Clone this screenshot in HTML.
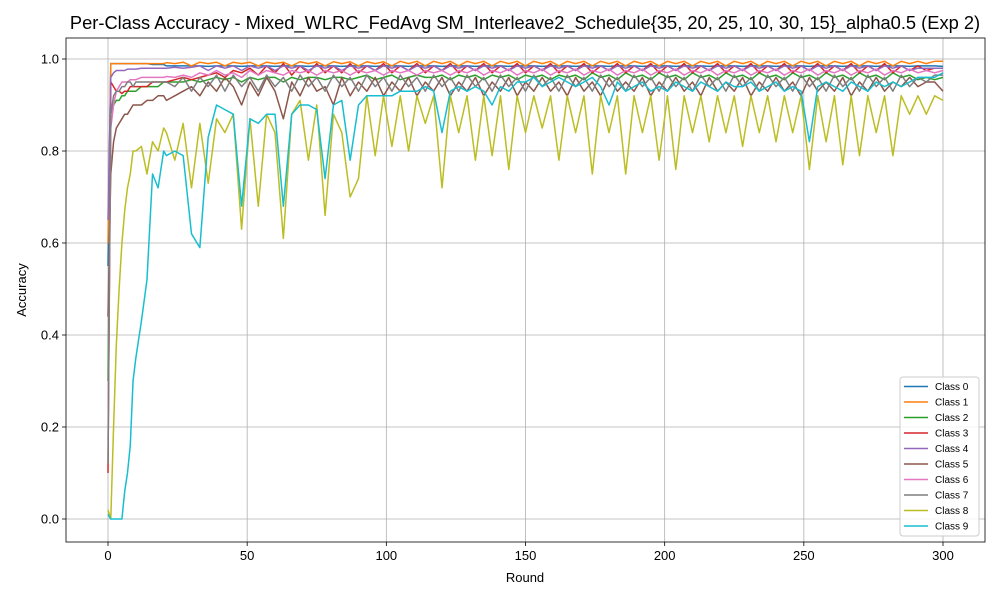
<!DOCTYPE html>
<html><head><meta charset="utf-8"><style>
body{margin:0;background:#fff;font-family:"Liberation Sans",sans-serif}
svg text{font-family:"Liberation Sans",sans-serif}
</style></head><body>
<svg id="chart" width="1000" height="600" xmlns="http://www.w3.org/2000/svg"></svg>
<script>
const rounds=[0,1,2,3,4,5,6,7,8,9,10,12,14,16,18,20,21,24,27,30,33,36,39,42,45,48,51,54,57,60,63,66,69,72,75,78,81,84,87,90,93,96,99,102,105,108,111,114,117,120,123,126,129,132,135,138,141,144,147,150,153,156,159,162,165,168,171,174,177,180,183,186,189,192,195,198,201,204,207,210,213,216,219,222,225,228,231,234,237,240,243,246,249,252,255,258,261,264,267,270,273,276,279,282,285,288,291,294,297,300];
const xTicks=[0,50,100,150,200,250,300];
const yTicks=[0.0,0.2,0.4,0.6,0.8,1.0];
const seriesNames=["Class 0","Class 1","Class 2","Class 3","Class 4","Class 5","Class 6","Class 7","Class 8","Class 9"];
const c0=[0.55,0.99,0.99,0.99,0.99,0.99,0.99,0.99,0.99,0.99,0.99,0.99,0.99,0.988,0.988,0.988,0.985,0.985,0.985,0.985,0.985,0.984,0.985,0.985,0.985,0.984,0.985,0.985,0.985,0.984,0.985,0.985,0.985,0.984,0.985,0.985,0.985,0.984,0.985,0.985,0.985,0.984,0.985,0.985,0.985,0.984,0.985,0.985,0.985,0.984,0.985,0.985,0.985,0.984,0.985,0.985,0.985,0.984,0.985,0.985,0.985,0.984,0.985,0.985,0.985,0.984,0.985,0.985,0.985,0.984,0.985,0.985,0.985,0.984,0.985,0.985,0.985,0.984,0.985,0.985,0.985,0.984,0.985,0.985,0.985,0.984,0.985,0.985,0.985,0.984,0.985,0.985,0.985,0.984,0.985,0.985,0.985,0.984,0.985,0.985,0.985,0.984,0.985,0.985,0.985,0.984,0.985,0.985,0.985,0.984];
const c1=[0.6,0.99,0.99,0.99,0.99,0.99,0.99,0.99,0.99,0.99,0.99,0.99,0.99,0.99,0.99,0.99,0.992,0.99,0.993,0.985,0.993,0.99,0.993,0.985,0.993,0.99,0.993,0.985,0.993,0.99,0.993,0.985,0.994,0.99,0.994,0.985,0.994,0.99,0.994,0.985,0.994,0.99,0.994,0.985,0.995,0.99,0.995,0.985,0.995,0.99,0.995,0.985,0.995,0.99,0.995,0.985,0.995,0.99,0.995,0.985,0.995,0.99,0.995,0.985,0.995,0.99,0.995,0.985,0.995,0.99,0.995,0.985,0.995,0.99,0.995,0.985,0.995,0.99,0.995,0.985,0.995,0.99,0.995,0.985,0.995,0.99,0.995,0.985,0.995,0.99,0.995,0.985,0.995,0.99,0.995,0.985,0.995,0.99,0.995,0.985,0.995,0.99,0.995,0.985,0.995,0.99,0.995,0.99,0.995,0.995];
const c2=[0.3,0.88,0.9,0.91,0.91,0.92,0.92,0.93,0.93,0.93,0.93,0.94,0.94,0.94,0.94,0.95,0.95,0.95,0.95,0.955,0.95,0.955,0.96,0.955,0.96,0.95,0.96,0.955,0.96,0.96,0.95,0.96,0.955,0.96,0.96,0.955,0.96,0.96,0.955,0.96,0.965,0.955,0.96,0.965,0.955,0.96,0.965,0.96,0.96,0.965,0.955,0.965,0.96,0.965,0.955,0.965,0.96,0.965,0.955,0.965,0.96,0.965,0.955,0.965,0.96,0.965,0.955,0.97,0.96,0.965,0.955,0.97,0.96,0.965,0.955,0.97,0.96,0.965,0.955,0.97,0.96,0.965,0.955,0.97,0.96,0.965,0.955,0.97,0.96,0.965,0.955,0.97,0.96,0.965,0.955,0.97,0.96,0.965,0.955,0.97,0.96,0.965,0.955,0.97,0.96,0.965,0.955,0.96,0.955,0.96];
const c3=[0.1,0.95,0.94,0.93,0.93,0.925,0.93,0.93,0.94,0.94,0.94,0.94,0.94,0.95,0.95,0.95,0.95,0.955,0.96,0.955,0.96,0.965,0.97,0.96,0.975,0.97,0.98,0.965,0.985,0.97,0.99,0.965,0.985,0.97,0.99,0.97,0.985,0.97,0.99,0.97,0.985,0.975,0.99,0.97,0.985,0.975,0.99,0.97,0.985,0.975,0.99,0.97,0.985,0.975,0.99,0.97,0.985,0.975,0.99,0.97,0.985,0.975,0.99,0.97,0.985,0.975,0.99,0.97,0.985,0.975,0.99,0.97,0.985,0.975,0.99,0.97,0.985,0.975,0.99,0.97,0.985,0.975,0.99,0.97,0.985,0.975,0.99,0.97,0.985,0.975,0.99,0.97,0.985,0.975,0.99,0.97,0.985,0.975,0.99,0.97,0.985,0.975,0.99,0.97,0.985,0.975,0.985,0.975,0.98,0.98];
const c4=[0.65,0.96,0.97,0.975,0.975,0.975,0.975,0.978,0.978,0.978,0.978,0.98,0.98,0.98,0.98,0.98,0.98,0.982,0.98,0.982,0.985,0.975,0.985,0.98,0.985,0.975,0.985,0.98,0.985,0.975,0.985,0.98,0.985,0.975,0.985,0.98,0.985,0.975,0.985,0.98,0.985,0.975,0.985,0.98,0.985,0.975,0.985,0.98,0.985,0.975,0.985,0.98,0.985,0.975,0.985,0.98,0.985,0.975,0.985,0.98,0.985,0.975,0.985,0.98,0.985,0.975,0.985,0.98,0.985,0.975,0.985,0.98,0.985,0.975,0.985,0.98,0.985,0.975,0.985,0.98,0.985,0.975,0.985,0.98,0.985,0.975,0.985,0.98,0.985,0.975,0.985,0.98,0.985,0.975,0.985,0.98,0.985,0.975,0.985,0.98,0.985,0.975,0.985,0.98,0.985,0.975,0.98,0.98,0.98,0.98];
const c5=[0.44,0.75,0.82,0.85,0.86,0.87,0.88,0.88,0.89,0.9,0.9,0.9,0.91,0.91,0.92,0.92,0.91,0.92,0.93,0.94,0.92,0.95,0.93,0.96,0.94,0.9,0.95,0.92,0.96,0.93,0.87,0.95,0.92,0.96,0.93,0.94,0.9,0.96,0.92,0.95,0.93,0.96,0.92,0.95,0.93,0.96,0.92,0.95,0.93,0.96,0.92,0.95,0.93,0.96,0.92,0.95,0.93,0.96,0.92,0.95,0.93,0.96,0.93,0.95,0.92,0.96,0.93,0.95,0.92,0.96,0.93,0.95,0.93,0.96,0.92,0.95,0.93,0.96,0.93,0.95,0.92,0.96,0.93,0.95,0.93,0.96,0.92,0.95,0.93,0.96,0.93,0.95,0.92,0.96,0.93,0.95,0.93,0.96,0.92,0.95,0.93,0.96,0.93,0.95,0.94,0.96,0.94,0.95,0.95,0.93];
const c6=[0.17,0.85,0.9,0.93,0.94,0.95,0.95,0.95,0.955,0.955,0.955,0.96,0.96,0.96,0.96,0.96,0.962,0.96,0.965,0.96,0.97,0.965,0.975,0.965,0.97,0.96,0.975,0.965,0.975,0.97,0.965,0.975,0.97,0.975,0.965,0.975,0.97,0.975,0.965,0.975,0.97,0.975,0.965,0.975,0.97,0.975,0.965,0.975,0.97,0.975,0.965,0.975,0.97,0.978,0.965,0.975,0.97,0.978,0.965,0.975,0.97,0.978,0.965,0.975,0.97,0.978,0.965,0.975,0.97,0.978,0.965,0.975,0.97,0.978,0.965,0.975,0.97,0.978,0.965,0.975,0.97,0.978,0.965,0.975,0.97,0.978,0.965,0.975,0.97,0.978,0.965,0.975,0.97,0.978,0.965,0.975,0.97,0.978,0.965,0.975,0.97,0.978,0.965,0.975,0.97,0.978,0.97,0.975,0.97,0.975];
const c7=[0.12,0.88,0.92,0.93,0.93,0.94,0.94,0.95,0.95,0.94,0.95,0.95,0.95,0.95,0.95,0.95,0.95,0.94,0.96,0.93,0.96,0.94,0.965,0.93,0.965,0.94,0.96,0.93,0.965,0.94,0.96,0.93,0.965,0.94,0.96,0.93,0.965,0.94,0.96,0.93,0.965,0.94,0.96,0.93,0.965,0.94,0.96,0.93,0.965,0.94,0.96,0.93,0.965,0.94,0.96,0.93,0.965,0.94,0.96,0.93,0.965,0.94,0.96,0.93,0.965,0.94,0.96,0.93,0.965,0.94,0.96,0.93,0.965,0.94,0.96,0.93,0.965,0.94,0.96,0.93,0.965,0.94,0.96,0.93,0.965,0.94,0.96,0.93,0.965,0.94,0.96,0.93,0.965,0.94,0.96,0.93,0.965,0.94,0.96,0.93,0.965,0.94,0.96,0.93,0.965,0.94,0.96,0.95,0.965,0.965];
const c8=[0.02,0.0,0.2,0.38,0.5,0.6,0.67,0.72,0.75,0.8,0.8,0.81,0.75,0.82,0.8,0.85,0.84,0.78,0.86,0.72,0.86,0.73,0.87,0.84,0.88,0.63,0.87,0.68,0.88,0.84,0.61,0.88,0.91,0.78,0.9,0.66,0.88,0.84,0.7,0.74,0.92,0.79,0.92,0.81,0.92,0.8,0.92,0.86,0.92,0.72,0.92,0.84,0.92,0.78,0.92,0.79,0.92,0.76,0.92,0.84,0.92,0.85,0.92,0.78,0.92,0.84,0.92,0.75,0.92,0.84,0.92,0.75,0.92,0.84,0.92,0.78,0.92,0.76,0.92,0.84,0.92,0.82,0.92,0.84,0.92,0.81,0.92,0.84,0.92,0.82,0.92,0.84,0.92,0.76,0.92,0.82,0.92,0.77,0.92,0.79,0.92,0.84,0.92,0.79,0.92,0.88,0.92,0.88,0.92,0.91];
const c9=[0.01,0.0,0.0,0.0,0.0,0.0,0.06,0.1,0.16,0.3,0.35,0.43,0.52,0.75,0.72,0.8,0.79,0.8,0.79,0.62,0.59,0.83,0.9,0.89,0.88,0.68,0.87,0.86,0.88,0.88,0.68,0.88,0.9,0.9,0.89,0.74,0.9,0.91,0.78,0.9,0.92,0.92,0.92,0.92,0.93,0.93,0.93,0.94,0.93,0.84,0.93,0.94,0.93,0.94,0.93,0.9,0.94,0.93,0.95,0.95,0.96,0.94,0.95,0.96,0.95,0.94,0.95,0.96,0.94,0.9,0.95,0.93,0.94,0.95,0.93,0.94,0.93,0.95,0.94,0.93,0.95,0.94,0.93,0.95,0.94,0.94,0.95,0.93,0.94,0.95,0.93,0.94,0.93,0.82,0.94,0.95,0.94,0.93,0.95,0.94,0.93,0.95,0.94,0.95,0.94,0.95,0.96,0.96,0.96,0.97];
const seriesValues=[c0,c1,c2,c3,c4,c5,c6,c7,c8,c9];
const colors=["#1f77b4","#ff7f0e","#2ca02c","#d62728","#9467bd","#8c564b","#e377c2","#7f7f7f","#bcbd22","#17becf"];

const NS="http://www.w3.org/2000/svg";
const svg=document.getElementById("chart");
const L=66,R=985,T=38,B=542;
const xS=v=>108+(v/300)*835;
const yS=v=>519-v*460;
function mk(tag,attrs,parent){const e=document.createElementNS(NS,tag);for(const k in attrs)e.setAttribute(k,attrs[k]);(parent||svg).appendChild(e);return e;}

const title=mk("text",{x:525,y:29,"text-anchor":"middle","font-size":"18.3"});
title.textContent="Per-Class Accuracy - Mixed_WLRC_FedAvg SM_Interleave2_Schedule{35, 20, 25, 10, 30, 15}_alpha0.5 (Exp 2)";



const grid=mk("g",{});


xTicks.forEach(t=>{
  mk("line",{x1:xS(t),x2:xS(t),y1:T,y2:B,stroke:"#b0b0b0","stroke-width":0.8},grid);
  mk("line",{x1:xS(t),x2:xS(t),y1:B,y2:B+4,stroke:"#000","stroke-width":0.8});
  const tx=mk("text",{x:xS(t),y:B+18,"text-anchor":"middle","font-size":"13"});
  tx.textContent=t;
  
  
});
yTicks.forEach(t=>{
  mk("line",{x1:L,x2:R,y1:yS(t),y2:yS(t),stroke:"#b0b0b0","stroke-width":0.8},grid);
  mk("line",{x1:L-4,x2:L,y1:yS(t),y2:yS(t),stroke:"#000","stroke-width":0.8});
  const ty=mk("text",{x:L-7,y:yS(t)+4.5,"text-anchor":"end","font-size":"13"});
  ty.textContent=t.toFixed(1);
  
  
});

const lines=mk("g",{});


seriesValues.forEach((vals,i)=>{
  const n=Math.min(vals.length,rounds.length);
  let d="";
  for(let k=0;k<n;k++)d+=(k?"L":"M")+xS(rounds[k]).toFixed(2)+","+yS(vals[k]).toFixed(2);
  const p=mk("path",{d:d,fill:"none",stroke:colors[i],"stroke-width":1.5,"stroke-linejoin":"round"},lines);
  
  
});

const frame=mk("rect",{x:L,y:T,width:R-L,height:B-T,fill:"none",stroke:"#000","stroke-width":0.8});



const xl=mk("text",{x:525,y:582,"text-anchor":"middle","font-size":"13"});
xl.textContent="Round";


const yl=mk("text",{x:26,y:290,"text-anchor":"middle","font-size":"13",transform:"rotate(-90 26 290)"});
yl.textContent="Accuracy";



const lg=mk("g",{});


mk("rect",{x:900,y:377,width:79,height:159,rx:3,fill:"#fff","fill-opacity":0.85,stroke:"#ccc","stroke-width":1},lg);
seriesNames.forEach((nm,i)=>{
  const y=386.5+i*15.5;
  const g=mk("g",{},lg);
  
  
  mk("line",{x1:904,x2:928,y1:y,y2:y,stroke:colors[i],"stroke-width":1.5},g);
  const t=mk("text",{x:935,y:y+3.5,"font-size":"10"},g);
  t.textContent=nm;
});
</script>
</body></html>
